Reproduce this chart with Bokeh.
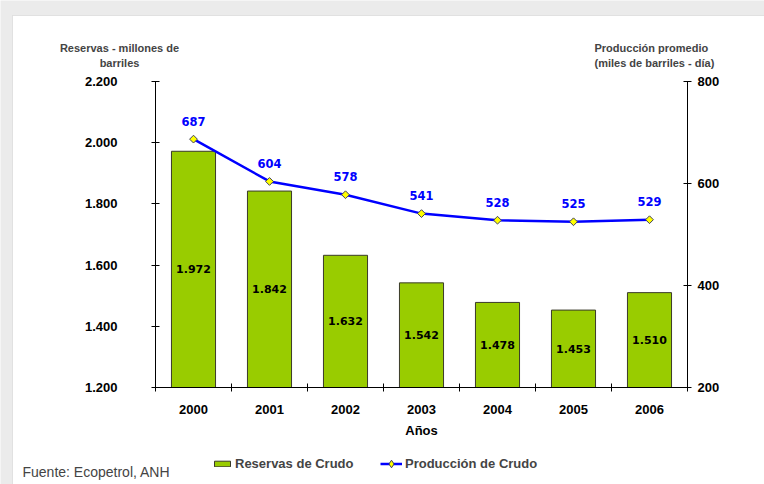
import math
from bokeh.plotting import figure
from bokeh.models import (Range1d, LinearAxis, FixedTicker, Label, Legend, LegendItem,
                          ColumnDataSource, BoxAnnotation)
from bokeh.core.properties import value
from bokeh.embed import file_html
from bokeh.resources import INLINE

years = ["2000", "2001", "2002", "2003", "2004", "2005", "2006"]
reservas = [1972, 1842, 1632, 1542, 1478, 1453, 1510]
produccion = [687, 604, 578, 541, 528, 525, 529]
left_ticks = [1200, 1400, 1600, 1800, 2000, 2200]
left_tick_labels = ["1.200", "1.400", "1.600", "1.800", "2.000", "2.200"]
right_ticks = [200, 400, 600, 800]
right_tick_labels = ["200", "400", "600", "800"]

# layout (pixels): figure size and where the axes sit inside it
W, H = 764, 484
AX_L, AX_R, AX_T, AX_B = 155, 687, 81, 387

n = len(years)
xpx = (AX_R - AX_L) / n
x_start = -AX_L / xpx
x_end = n + (W - AX_R) / xpx


def yr(lo, hi):
    k = (hi - lo) / (AX_B - AX_T)
    return Range1d(lo - (H - AX_B) * k, hi + AX_T * k)


xpos = [i + 0.5 for i in range(n)]
src = ColumnDataSource(dict(
    x=xpos,
    res=reservas,
    base=[left_ticks[0]] * n,
    mid=[(r + left_ticks[0]) / 2 for r in reservas],
    res_lbl=[f"{r / 1000:.3f}" for r in reservas],
    prod=produccion,
    prod_lbl=[str(v) for v in produccion],
))

ARIAL = "Liberation Sans"
p = figure(width=W, height=H, output_backend="svg", toolbar_location=None,
           x_range=Range1d(x_start, x_end), y_range=yr(left_ticks[0], left_ticks[-1]),
           min_border=0)
p.extra_y_ranges = {"prod": yr(right_ticks[0], right_ticks[-1])}
p.xgrid.visible = False
p.ygrid.visible = False
p.outline_line_color = None
p.background_fill_color = "#ebebeb"
p.border_fill_color = "#ebebeb"

# white panel with thin grey border
p.add_layout(BoxAnnotation(left=12, right=W + 10, top=H - 15, bottom=-10,
                           left_units="screen", right_units="screen",
                           top_units="screen", bottom_units="screen",
                           fill_color="white", fill_alpha=1, line_color="#b4b4b4",
                           line_width=1, level="underlay"))

# x axis
xa = p.xaxis[0]
xa.fixed_location = left_ticks[0]
xa.bounds = (0, n)
xa.ticker = FixedTicker(ticks=xpos, minor_ticks=list(range(n + 1)))
xa.major_label_overrides = {x: y for x, y in zip(xpos, years)}
xa.major_tick_in = 0
xa.major_tick_out = 0
xa.minor_tick_in = 4
xa.minor_tick_out = 4
xa.minor_tick_line_color = "black"
xa.axis_line_color = "black"
xa.major_label_text_color = "black"
xa.major_label_text_font = ARIAL
xa.major_label_text_font_style = "bold"
xa.major_label_text_font_size = "13px"
xa.major_label_standoff = 13
xa.axis_label = "Años"
xa.axis_label_text_color = "black"
xa.axis_label_text_font = ARIAL
xa.axis_label_text_font_style = "bold"
xa.axis_label_text_font_size = "13px"
xa.axis_label_standoff = 6

# left axis
ya = p.yaxis[0]
ya.fixed_location = 0
ya.bounds = (left_ticks[0], left_ticks[-1])
ya.ticker = FixedTicker(ticks=left_ticks)
ya.major_label_overrides = {t: l for t, l in zip(left_ticks, left_tick_labels)}
ya.major_tick_in = 4
ya.major_tick_out = 4
ya.minor_tick_line_color = None
ya.axis_line_color = "black"
ya.major_tick_line_color = "black"
ya.major_label_text_color = "black"
ya.major_label_text_font = ARIAL
ya.major_label_text_font_style = "bold"
ya.major_label_text_font_size = "13px"
ya.major_label_standoff = 34

# right axis
ra = LinearAxis(y_range_name="prod", ticker=FixedTicker(ticks=right_ticks))
ra.fixed_location = n
ra.bounds = (right_ticks[0], right_ticks[-1])
ra.major_label_overrides = {t: l for t, l in zip(right_ticks, right_tick_labels)}
ra.major_tick_in = 4
ra.major_tick_out = 4
ra.minor_tick_line_color = None
ra.axis_line_color = "black"
ra.major_tick_line_color = "black"
ra.major_label_text_color = "black"
ra.major_label_text_font = ARIAL
ra.major_label_text_font_style = "bold"
ra.major_label_text_font_size = "13px"
ra.major_label_standoff = 6
p.add_layout(ra, "right")

bars = p.vbar(x="x", top="res", bottom="base", width=0.58, source=src,
              fill_color="#99CC00", line_color="#3a3a2a", line_width=1)
p.text(x="x", y="mid", text="res_lbl", source=src, text_align="center",
       text_baseline="middle", text_font=value("DejaVu Sans"), text_font_style="bold",
       text_font_size="11px", text_color="black")

ln = p.line(x="x", y="prod", source=src, y_range_name="prod", line_color="#0000FF",
            line_width=2.5)
mk = p.scatter(x="x", y="prod", source=src, y_range_name="prod", marker="square",
               angle=math.pi / 4, size=5.5, fill_color="#FFFF00", line_color="#404060",
               line_width=1)
# legend-only diamond (a single NaN point, so nothing is drawn in the plot)
mk_leg = p.scatter(x=[float("nan")], y=[float("nan")], y_range_name="prod",
                   marker="diamond", fill_color="#FFFF00", line_color="#404060",
                   line_width=1)
p.text(x="x", y="prod", text="prod_lbl", source=src, y_range_name="prod",
       y_offset=-18, text_align="center", text_baseline="middle",
       text_font=value("DejaVu Sans"), text_font_style="bold", text_font_size="11.5px",
       text_color="#0000FF")

# axis titles (screen coords from figure bottom-left)
for txt, x, y, align in [
    ("Reservas - millones de", 119, H - 47, "center"),
    ("barriles", 119, H - 62, "center"),
    ("Producción  promedio", 594, H - 47, "left"),
    ("(miles de barriles - día)", 594, H - 62, "left"),
]:
    p.add_layout(Label(x=x, y=y, x_units="screen", y_units="screen", text=txt,
                       text_align=align, text_baseline="middle", text_font=ARIAL,
                       text_font_style="bold", text_font_size="11px"))

p.add_layout(Label(x=22, y=H - 471, x_units="screen", y_units="screen",
                   text="Fuente: Ecopetrol, ANH", text_align="left", text_baseline="middle",
                   text_font=ARIAL, text_font_size="14px"))

leg_style = dict(orientation="horizontal", padding=0, margin=0, label_standoff=3,
                 label_text_font=ARIAL, label_text_font_style="bold",
                 label_text_font_size="13px", border_line_color=None,
                 background_fill_alpha=0)
legend1 = Legend(items=[LegendItem(label="Reservas de Crudo", renderers=[bars])],
                 location=(212, H - 471), glyph_width=20, glyph_height=7, **leg_style)
legend2 = Legend(items=[LegendItem(label="Producción de Crudo", renderers=[ln, mk_leg])],
                 location=(380, H - 473), glyph_width=22, glyph_height=19, **leg_style)
p.add_layout(legend1, "center")
p.add_layout(legend2, "center")

open("out.html", "w").write(file_html(p, INLINE))
